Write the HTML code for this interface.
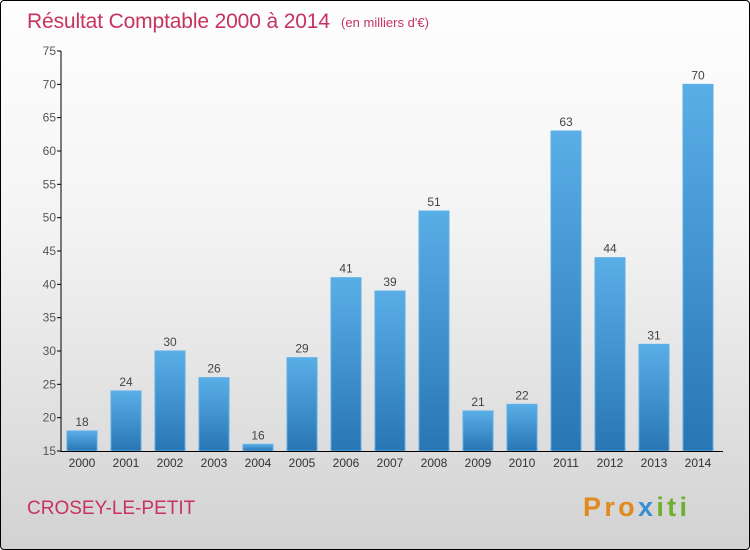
<!DOCTYPE html>
<html><head><meta charset="utf-8"><style>
body{margin:0}
#c{width:748px;height:548px;border:1px solid #000;border-radius:4px;background:linear-gradient(#fefefe,#f4f4f4 40%,#d2d2d2);position:relative;font-family:"Liberation Sans",sans-serif;overflow:hidden}
</style></head><body>
<div id="c">
<svg width="748" height="548" id="s">
<defs><linearGradient id="g" x1="0" y1="0" x2="0" y2="1"><stop offset="0" stop-color="#5aaee6"/><stop offset="1" stop-color="#2876b4"/></linearGradient></defs>
<text x="26" y="27" font-size="21" fill="#c8325f" textLength="303">Résultat Comptable 2000 à 2014</text>
<text x="340" y="26" font-size="13" fill="#c8325f" textLength="88">(en milliers d'€)</text>
<text x="26" y="513" font-size="19" fill="#c8325f">CROSEY-LE-PETIT</text>
<text x="582" y="515" font-size="27" font-weight="bold" fill="#e08a20" textLength="104">Pro<tspan fill="#3a8fd0">x</tspan><tspan fill="#70b030">iti</tspan></text>
</svg>
</div>
<script>
const years=["2000","2001","2002","2003","2004","2005","2006","2007","2008","2009","2010","2011","2012","2013","2014"];
const values=[18,24,30,26,16,29,41,39,51,21,22,63,44,31,70];
const yTicks=[15,20,25,30,35,40,45,50,55,60,65,70,75];
const s=document.getElementById('s');const NS='http://www.w3.org/2000/svg';
const y=v=>450-(v-15)*400/60;const x=i=>81+i*44;
function mk(t,a,txt){const e=document.createElementNS(NS,t);for(const k in a)e.setAttribute(k,a[k]);if(txt!=null)e.textContent=txt;s.appendChild(e);return e;}
yTicks.forEach(v=>{
const l=mk('line',{x1:56,x2:60,y1:y(v),y2:y(v),stroke:'#000'});


const t=mk('text',{x:55,y:y(v)+4,'text-anchor':'end','font-size':12,fill:'#555'},v);


});
values.forEach((v,i)=>{
const r=mk('rect',{x:x(i)-15,y:y(v),width:30,height:450-y(v),fill:'url(#g)',stroke:'#5ab0ea','stroke-width':1});


const t=mk('text',{x:x(i),y:y(v)-5,'text-anchor':'middle','font-size':12,fill:'#444'},v);


const xl=mk('text',{x:x(i),y:466,'text-anchor':'middle','font-size':12,fill:'#333'},years[i]);


});
const ya=mk('line',{x1:60,x2:60,y1:50,y2:451,stroke:'#000'});


const xa=mk('line',{x1:60,x2:722,y1:450.5,y2:450.5,stroke:'#000'});


</script>
</body></html>
